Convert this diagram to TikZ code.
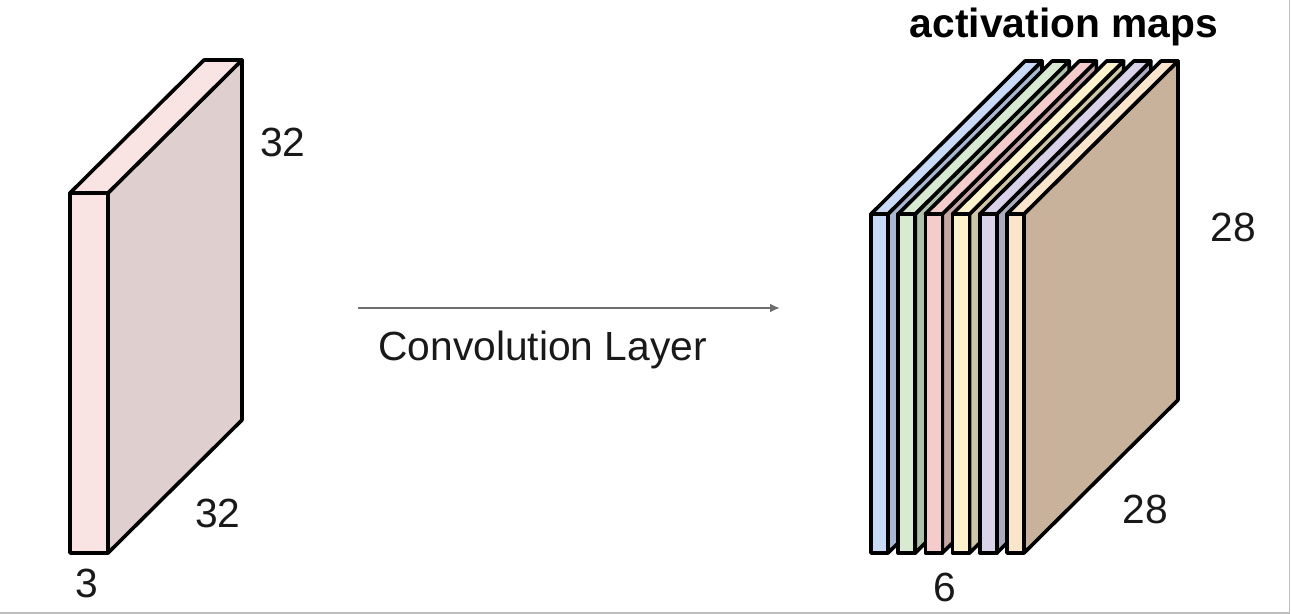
\documentclass[tikz,border=0pt]{standalone}
\usepackage{fontspec}
\setmainfont{Liberation Sans}
\usetikzlibrary{arrows.meta}
\definecolor{inputfront}{RGB}{249,227,227}
\definecolor{inputside}{RGB}{223,207,207}
\definecolor{mapblue}{RGB}{201,218,248}
\definecolor{mapbluedark}{RGB}{168,182,209}
\definecolor{mapgreen}{RGB}{217,234,211}
\definecolor{mapgreendark}{RGB}{175,192,170}
\definecolor{mappink}{RGB}{244,204,204}
\definecolor{mappinkdark}{RGB}{198,165,165}
\definecolor{mapyellow}{RGB}{255,242,204}
\definecolor{mapyellowdark}{RGB}{207,198,165}
\definecolor{maplilac}{RGB}{217,210,233}
\definecolor{maplilacdark}{RGB}{173,170,190}
\definecolor{mappeach}{RGB}{252,229,205}
\definecolor{mappeachdark}{RGB}{200,178,156}
\definecolor{arrowgray}{RGB}{110,110,110}
\definecolor{framegray}{RGB}{190,190,190}
\tikzset{
  slabline/.style={draw=black,line width=0.072cm,line join=round},
  dimlabel/.style={font=\fontsize{23.2}{23.2}\selectfont,text=black!90,inner sep=0pt},
}
\begin{document}
\begin{tikzpicture}[x=0.02cm,y=-0.02cm]
        \useasboundingbox (0,0) rectangle (1291,614);
        \draw[framegray,line width=0.03cm] (0,613)--(1289.5,613)--(1289.5,0);
        % input volume
        \draw[slabline,fill=inputside] (108,193)--(242,60)--(242,420)--(108,553)--cycle;
        \draw[slabline,fill=inputfront] (70,193)--(204,60)--(242,60)--(108,193)--cycle;
        \draw[slabline,fill=inputfront] (70,193) rectangle (108,553);
        % stack of maps
        \foreach \x/\fc/\sc in {871/mapblue/mapbluedark,898.2/mapgreen/mapgreendark,925.4/mappink/mappinkdark,952.6/mapyellow/mapyellowdark,979.8/maplilac/maplilacdark,1007/mappeach/mappeachdark}{
            \draw[slabline,fill=\sc] (\x+17,214)--(\x+171,61)--(\x+171,400)--(\x+17,553)--cycle;
            \draw[slabline,fill=\fc] (\x,214)--(\x+154,61)--(\x+171,61)--(\x+17,214)--cycle;
            \draw[slabline,fill=\fc] (\x,214) rectangle (\x+17,553);}
        % arrow
        \coordinate (convstart) at (358,308);
        \coordinate (convend) at (780,308);
        \draw[-{Latex[length=0.2cm,width=0.18cm]},arrowgray,line width=0.04cm] (convstart)--(convend);
        \node[dimlabel,anchor=west] (convlabel) at (378,350) {Convolution Layer};
        \node[dimlabel] (inheight) at (283,142) {32};
        \node[dimlabel] (inwidth) at (218,513) {32};
        \node[dimlabel] (indepth) at (87,583) {3};
        \node[dimlabel] (mapheight) at (1233,227) {28};
        \node[dimlabel] (mapwidth) at (1145,509) {28};
        \node[dimlabel] (mapdepth) at (945,587) {6};
        \node[dimlabel,font=\fontsize{23.2}{23.2}\selectfont\bfseries,text=black] (maptitle) at (1064,27) {activation maps};
      \end{tikzpicture}
\end{document}
